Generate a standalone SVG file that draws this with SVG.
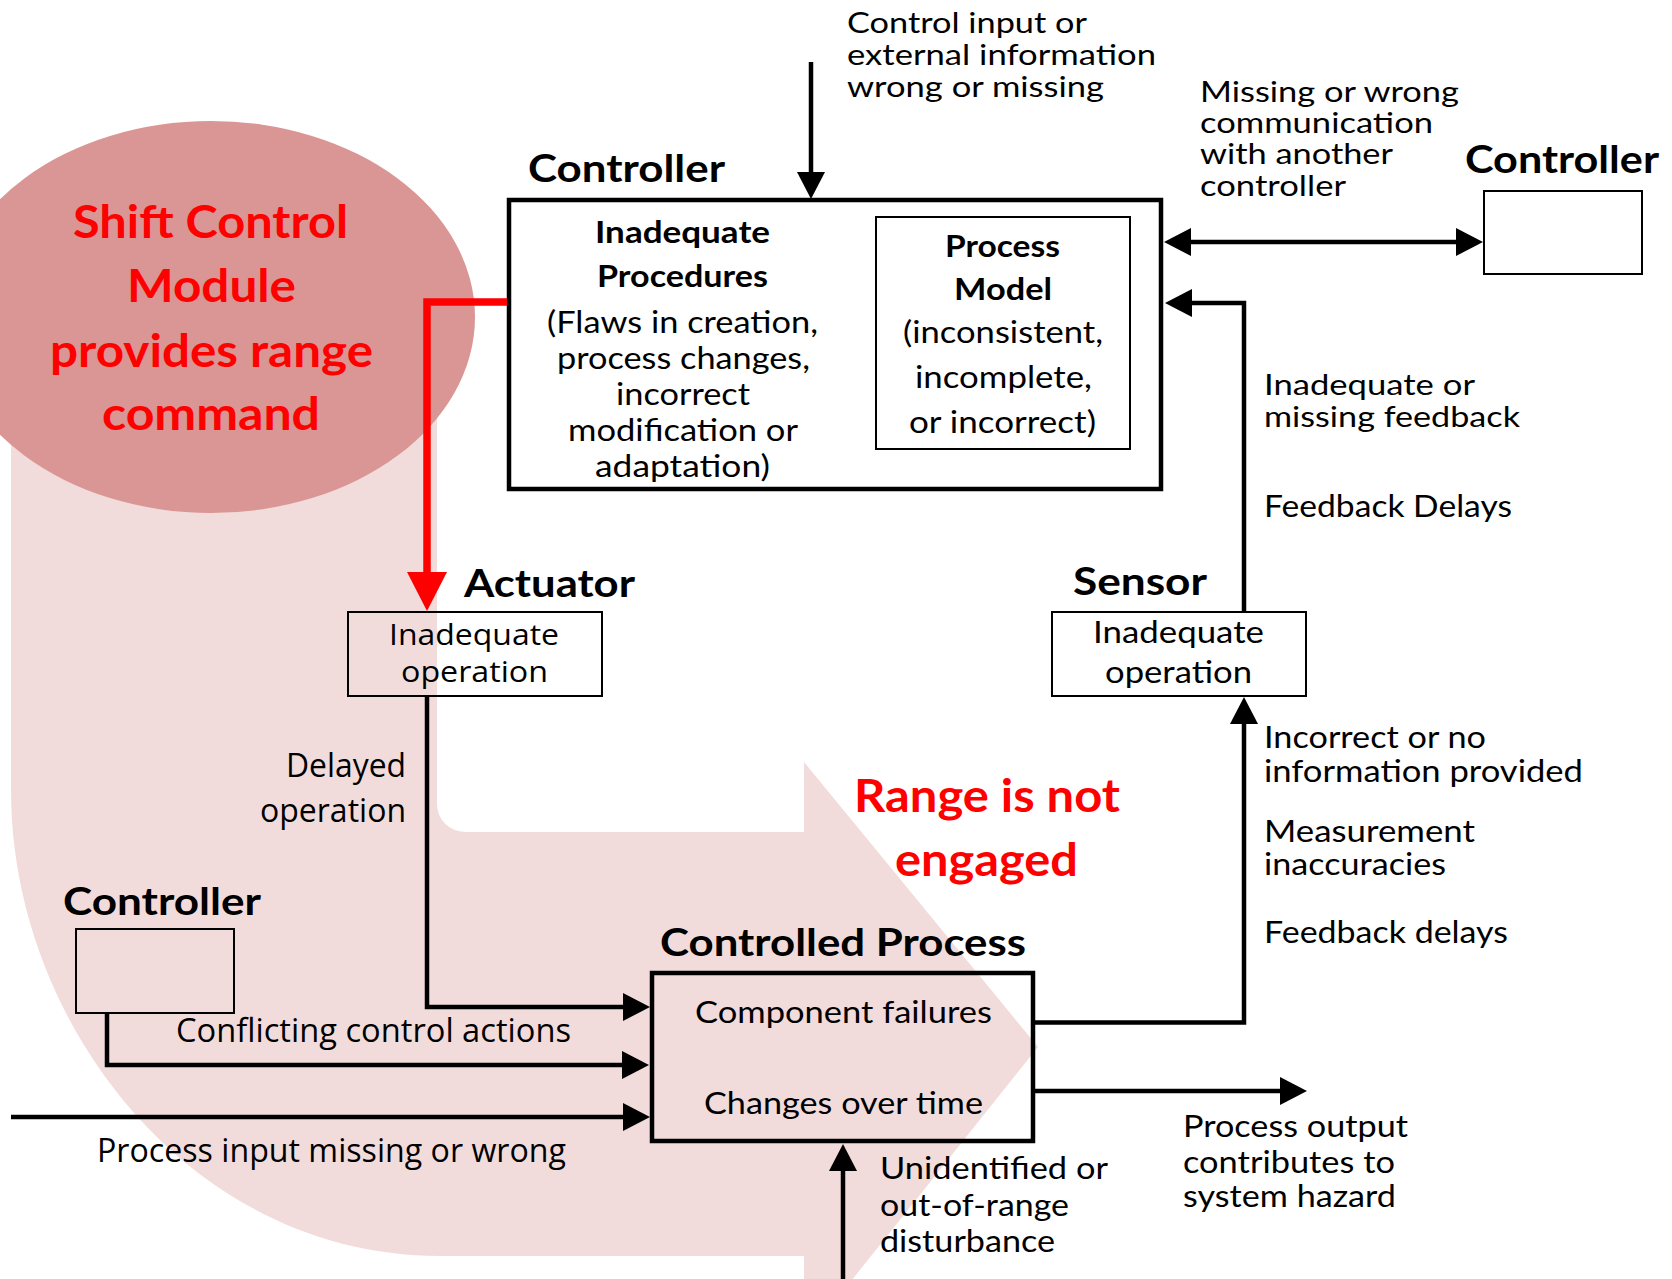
<svg xmlns="http://www.w3.org/2000/svg" width="1672" height="1279" viewBox="0 0 1672 1279">
  <style>
    .band { fill: #F2DCDB; }
    .blob { fill: #D99694; }
    .box { fill: none; stroke: #000; stroke-width: 4.5; }
    .sbox { fill: none; stroke: #000; stroke-width: 2; }
    .wire { fill: none; stroke: #000; stroke-width: 4.5; stroke-linejoin: miter; }
    .redwire { fill: none; stroke: #FF0000; stroke-width: 7.5; stroke-linejoin: miter; }
    text { font-family: Lato, "Open Sans", "Liberation Sans", sans-serif; fill: #000; }
    .big-red { font-weight: 700; font-size: 46px; fill: #FF0000; }
    .mid-red { font-weight: 700; font-size: 45px; fill: #FF0000; }
    .head { font-weight: 700; font-size: 38px; }
    .sub { font-weight: 700; font-size: 30px; }
    .t { font-size: 30px; }
    .tight { font-size: 28px; }
    .u { font-family: "Open Sans", "Noto Sans", sans-serif; font-size: 32px; }
    .ub { font-family: "Open Sans", "Noto Sans", sans-serif; font-size: 30px; }
  </style>
  <defs>
    <marker id="arrow" markerUnits="userSpaceOnUse" markerWidth="27" markerHeight="28" refX="0" refY="14" orient="auto-start-reverse">
      <path d="M0,0 L27,14 L0,28 Z" fill="#000"/>
    </marker>
    <marker id="arrow-red" markerUnits="userSpaceOnUse" markerWidth="39" markerHeight="40" refX="0" refY="20" orient="auto">
      <path d="M0,0 L39,20 L0,40 Z" fill="#FF0000"/>
    </marker>
  </defs>

  <!-- large U-shaped arrow in the background -->
  <g id="pink-band">
    <path class="band" d="M11 320 L11 790 C11 1023 190 1256 440 1256 L804 1256 L804 1340 L1038 1047 L804 762 L804 832 L465 832 A28 28 0 0 1 437 804 L437 320 Z"/>
  </g>

  <!-- Shift Control Module bubble -->
  <g id="shift-control-module">
    <ellipse class="blob" cx="211" cy="317" rx="264" ry="196"/>
    <text class="big-red" x="73" y="238" textLength="275" lengthAdjust="spacingAndGlyphs">Shift Control</text>
    <text class="big-red" x="127" y="302" textLength="169" lengthAdjust="spacingAndGlyphs">Module</text>
    <text class="big-red" x="50" y="367" textLength="323" lengthAdjust="spacingAndGlyphs">provides range</text>
    <text class="big-red" x="102" y="430" textLength="218" lengthAdjust="spacingAndGlyphs">command</text>
  </g>

  <!-- main controller -->
  <g id="controller-main">
    <text class="head" x="528" y="182" textLength="197" lengthAdjust="spacingAndGlyphs">Controller</text>
    <rect class="box" x="509" y="200" width="652" height="289"/>
    <text class="sub" x="595" y="243" textLength="175" lengthAdjust="spacingAndGlyphs">Inadequate</text>
    <text class="sub" x="597" y="287" textLength="171" lengthAdjust="spacingAndGlyphs">Procedures</text>
    <text class="t" x="547" y="333" textLength="271" lengthAdjust="spacingAndGlyphs">(Flaws in creation,</text>
    <text class="t" x="557" y="369" textLength="253" lengthAdjust="spacingAndGlyphs">process changes,</text>
    <text class="t" x="616" y="405" textLength="134" lengthAdjust="spacingAndGlyphs">incorrect</text>
    <text class="t" x="568" y="441" textLength="230" lengthAdjust="spacingAndGlyphs">modification or</text>
    <text class="t" x="595" y="477" textLength="175" lengthAdjust="spacingAndGlyphs">adaptation)</text>
    <g id="process-model">
      <rect class="sbox" x="876" y="217" width="254" height="232"/>
      <text class="sub" x="945" y="257" textLength="115" lengthAdjust="spacingAndGlyphs">Process</text>
      <text class="sub" x="954" y="300" textLength="98" lengthAdjust="spacingAndGlyphs">Model</text>
      <text class="t" x="903" y="343" textLength="200" lengthAdjust="spacingAndGlyphs">(inconsistent,</text>
      <text class="t" x="915" y="388" textLength="177" lengthAdjust="spacingAndGlyphs">incomplete,</text>
      <text class="t" x="909" y="433" textLength="187" lengthAdjust="spacingAndGlyphs">or incorrect)</text>
    </g>
  </g>

  <!-- peer controller on the right -->
  <g id="controller-peer">
    <text class="head" x="1465" y="173" textLength="194" lengthAdjust="spacingAndGlyphs">Controller</text>
    <rect class="sbox" x="1484" y="191" width="158" height="83"/>
  </g>

  <!-- second controller at the lower left -->
  <g id="controller-left">
    <text class="head" x="63" y="915" textLength="198" lengthAdjust="spacingAndGlyphs">Controller</text>
    <rect class="sbox" x="76" y="929" width="158" height="84"/>
  </g>

  <g id="actuator">
    <text class="head" x="464" y="597" textLength="171" lengthAdjust="spacingAndGlyphs">Actuator</text>
    <rect class="sbox" x="348" y="612" width="254" height="84"/>
    <text class="ub" x="389" y="645" textLength="170" lengthAdjust="spacingAndGlyphs">Inadequate</text>
    <text class="ub" x="401" y="682" textLength="147" lengthAdjust="spacingAndGlyphs">operation</text>
  </g>

  <g id="sensor">
    <text class="head" x="1073" y="595" textLength="134" lengthAdjust="spacingAndGlyphs">Sensor</text>
    <rect class="sbox" x="1052" y="612" width="254" height="84"/>
    <text class="t" x="1093" y="643" textLength="171" lengthAdjust="spacingAndGlyphs">Inadequate</text>
    <text class="t" x="1105" y="683" textLength="147" lengthAdjust="spacingAndGlyphs">operation</text>
  </g>

  <g id="controlled-process">
    <text class="head" x="660" y="956" textLength="366" lengthAdjust="spacingAndGlyphs">Controlled Process</text>
    <rect class="box" x="652" y="973" width="381" height="168"/>
    <text class="t" x="695" y="1023" textLength="297" lengthAdjust="spacingAndGlyphs">Component failures</text>
    <text class="t" x="704" y="1114" textLength="279" lengthAdjust="spacingAndGlyphs">Changes over time</text>
  </g>

  <!-- connectors -->
  <g id="connectors">
    <path class="wire" d="M811 62 V172" marker-end="url(#arrow)"/>
    <path class="wire" d="M1191 242 H1456" marker-start="url(#arrow)" marker-end="url(#arrow)"/>
    <path class="wire" d="M1244 611 V303 H1192" marker-end="url(#arrow)"/>
    <path class="wire" d="M1035 1022.5 H1244 V724" marker-end="url(#arrow)"/>
    <path class="wire" d="M1035 1091 H1280" marker-end="url(#arrow)"/>
    <path class="wire" d="M843 1279 V1171" marker-end="url(#arrow)"/>
    <path class="wire" d="M427 697 V1007 H623" marker-end="url(#arrow)"/>
    <path class="wire" d="M107 1013 V1065 H622" marker-end="url(#arrow)"/>
    <path class="wire" d="M11 1117 H623" marker-end="url(#arrow)"/>
    <path class="redwire" d="M507 302 H427 V572" marker-end="url(#arrow-red)"/>
  </g>

  <!-- free-standing annotations -->
  <g id="labels">
    <text class="tight" x="847" y="33" textLength="240" lengthAdjust="spacingAndGlyphs">Control input or</text>
    <text class="tight" x="847" y="65" textLength="309" lengthAdjust="spacingAndGlyphs">external information</text>
    <text class="tight" x="847" y="97" textLength="257" lengthAdjust="spacingAndGlyphs">wrong or missing</text>

    <text class="tight" x="1200" y="102" textLength="259" lengthAdjust="spacingAndGlyphs">Missing or wrong</text>
    <text class="tight" x="1200" y="133" textLength="233" lengthAdjust="spacingAndGlyphs">communication</text>
    <text class="tight" x="1200" y="164" textLength="193" lengthAdjust="spacingAndGlyphs">with another</text>
    <text class="tight" x="1200" y="196" textLength="146" lengthAdjust="spacingAndGlyphs">controller</text>

    <text class="tight" x="1264" y="395" textLength="211" lengthAdjust="spacingAndGlyphs">Inadequate or</text>
    <text class="tight" x="1264" y="427" textLength="256" lengthAdjust="spacingAndGlyphs">missing feedback</text>
    <text class="t" x="1264" y="517" textLength="248" lengthAdjust="spacingAndGlyphs">Feedback Delays</text>

    <text class="t" x="1264" y="748" textLength="222" lengthAdjust="spacingAndGlyphs">Incorrect or no</text>
    <text class="t" x="1264" y="782" textLength="319" lengthAdjust="spacingAndGlyphs">information provided</text>
    <text class="t" x="1264" y="842" textLength="211" lengthAdjust="spacingAndGlyphs">Measurement</text>
    <text class="t" x="1264" y="875" textLength="182" lengthAdjust="spacingAndGlyphs">inaccuracies</text>
    <text class="t" x="1264" y="943" textLength="244" lengthAdjust="spacingAndGlyphs">Feedback delays</text>

    <text class="u" x="286" y="777" textLength="120" lengthAdjust="spacingAndGlyphs">Delayed</text>
    <text class="u" x="260" y="822" textLength="146" lengthAdjust="spacingAndGlyphs">operation</text>
    <text class="u" x="176" y="1042" textLength="395" lengthAdjust="spacingAndGlyphs">Conflicting control actions</text>
    <text class="u" x="97" y="1162" textLength="469" lengthAdjust="spacingAndGlyphs">Process input missing or wrong</text>

    <text class="mid-red" x="854" y="812" textLength="266" lengthAdjust="spacingAndGlyphs">Range is not</text>
    <text class="mid-red" x="895" y="876" textLength="183" lengthAdjust="spacingAndGlyphs">engaged</text>

    <text class="t" x="880" y="1179" textLength="228" lengthAdjust="spacingAndGlyphs">Unidentified or</text>
    <text class="t" x="880" y="1216" textLength="189" lengthAdjust="spacingAndGlyphs">out-of-range</text>
    <text class="t" x="880" y="1252" textLength="175" lengthAdjust="spacingAndGlyphs">disturbance</text>

    <text class="t" x="1183" y="1137" textLength="225" lengthAdjust="spacingAndGlyphs">Process output</text>
    <text class="t" x="1183" y="1173" textLength="212" lengthAdjust="spacingAndGlyphs">contributes to</text>
    <text class="t" x="1183" y="1207" textLength="213" lengthAdjust="spacingAndGlyphs">system hazard</text>
  </g>
</svg>
